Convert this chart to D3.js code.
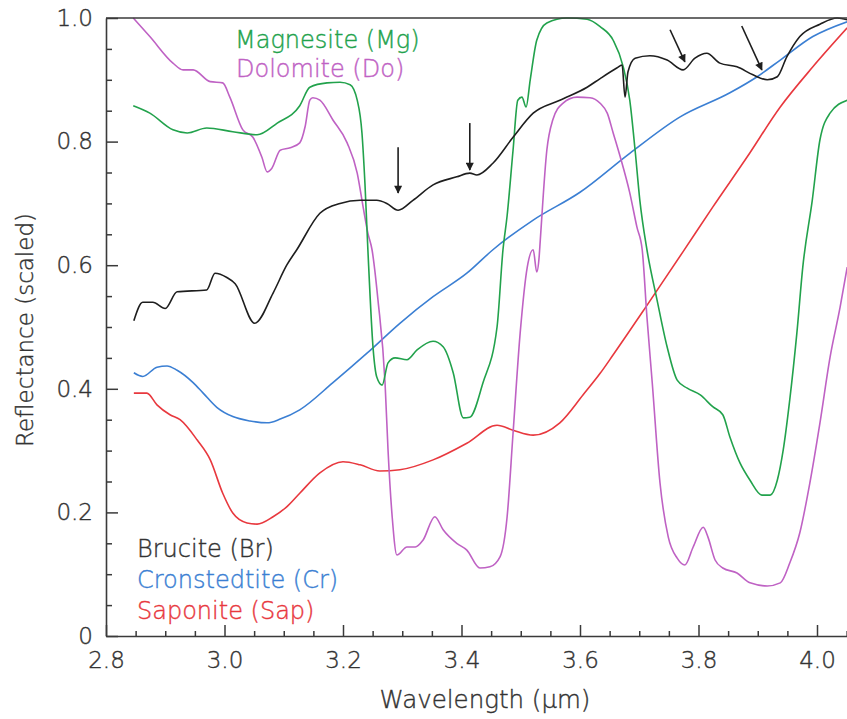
<!DOCTYPE html>
<html>
<head>
<meta charset="utf-8">
<script src="https://cdn.jsdelivr.net/npm/d3@7"></script>
<style>
  body { margin: 0; background: #fff; }
  text { font-family: "DejaVu Sans", sans-serif; font-weight: 200; stroke-width: 0.4px; }
</style>
</head>
<body>
<div id="chart"></div>
<script>
// spectra: [wavelength (um), reflectance]
const brucite = [[2.847,0.51],[2.862,0.54],[2.879,0.54],[2.900,0.53],[2.920,0.557],[2.970,0.56],[2.984,0.587],[3.004,0.58],[3.018,0.57],[3.051,0.506],[3.082,0.555],[3.105,0.60],[3.122,0.625],[3.161,0.684],[3.195,0.70],[3.229,0.705],[3.257,0.705],[3.274,0.70],[3.293,0.689],[3.318,0.705],[3.352,0.73],[3.392,0.743],[3.414,0.749],[3.426,0.746],[3.453,0.765],[3.487,0.807],[3.521,0.846],[3.566,0.867],[3.612,0.888],[3.634,0.902],[3.662,0.919],[3.671,0.924],[3.676,0.872],[3.681,0.913],[3.693,0.935],[3.718,0.939],[3.747,0.932],[3.774,0.916],[3.794,0.935],[3.814,0.943],[3.836,0.927],[3.865,0.921],[3.892,0.908],[3.916,0.90],[3.933,0.905],[3.949,0.937],[3.971,0.97],[4.005,0.99],[4.034,1.0],[4.051,0.997]]

const cronstedtite = [[2.847,0.426],[2.862,0.42],[2.886,0.435],[2.903,0.437],[2.920,0.43],[2.947,0.41],[2.964,0.393],[2.987,0.37],[3.014,0.355],[3.043,0.348],[3.072,0.345],[3.094,0.351],[3.127,0.366],[3.183,0.41],[3.241,0.458],[3.296,0.506],[3.352,0.549],[3.409,0.587],[3.453,0.625],[3.521,0.673],[3.600,0.718],[3.684,0.781],[3.769,0.84],[3.853,0.879],[3.899,0.905],[3.938,0.932],[3.993,0.97],[4.051,0.994]]

const saponite = [[2.847,0.393],[2.869,0.393],[2.886,0.374],[2.908,0.358],[2.925,0.35],[2.954,0.317],[2.976,0.285],[2.997,0.231],[3.014,0.199],[3.038,0.183],[3.055,0.181],[3.082,0.193],[3.105,0.209],[3.127,0.231],[3.161,0.264],[3.200,0.282],[3.229,0.277],[3.262,0.267],[3.296,0.269],[3.352,0.285],[3.409,0.312],[3.460,0.341],[3.487,0.333],[3.521,0.325],[3.566,0.345],[3.605,0.39],[3.634,0.425],[3.656,0.455],[3.713,0.535],[3.774,0.622],[3.824,0.694],[3.882,0.775],[3.938,0.856],[3.993,0.921],[4.051,0.984]]

const magnesite = [[2.846,0.858],[2.874,0.846],[2.913,0.819],[2.937,0.814],[2.970,0.822],[3.014,0.816],[3.055,0.811],[3.089,0.83],[3.127,0.858],[3.144,0.888],[3.173,0.895],[3.195,0.896],[3.212,0.892],[3.224,0.867],[3.232,0.814],[3.237,0.733],[3.242,0.625],[3.251,0.463],[3.257,0.419],[3.266,0.406],[3.276,0.442],[3.288,0.45],[3.308,0.447],[3.325,0.463],[3.352,0.477],[3.369,0.468],[3.386,0.426],[3.403,0.353],[3.414,0.354],[3.436,0.409],[3.460,0.50],[3.470,0.625],[3.477,0.68],[3.487,0.786],[3.495,0.867],[3.502,0.872],[3.509,0.856],[3.516,0.90],[3.527,0.964],[3.544,0.992],[3.578,1.0],[3.612,0.998],[3.634,0.986],[3.656,0.964],[3.673,0.921],[3.684,0.867],[3.693,0.786],[3.701,0.705],[3.713,0.625],[3.730,0.544],[3.747,0.468],[3.764,0.414],[3.781,0.401],[3.803,0.39],[3.824,0.371],[3.841,0.358],[3.853,0.322],[3.870,0.28],[3.887,0.252],[3.907,0.228],[3.921,0.228],[3.933,0.252],[3.943,0.301],[3.954,0.382],[3.966,0.49],[3.976,0.597],[3.992,0.705],[4.005,0.803],[4.022,0.846],[4.051,0.867]]

const dolomite = [[2.846,1.0],[2.874,0.97],[2.913,0.927],[2.930,0.916],[2.947,0.916],[2.976,0.897],[2.997,0.895],[3.009,0.872],[3.031,0.819],[3.048,0.807],[3.063,0.775],[3.072,0.751],[3.080,0.757],[3.094,0.786],[3.111,0.79],[3.127,0.798],[3.136,0.824],[3.144,0.867],[3.149,0.871],[3.161,0.867],[3.183,0.835],[3.207,0.798],[3.224,0.749],[3.234,0.694],[3.242,0.652],[3.249,0.625],[3.259,0.544],[3.271,0.409],[3.276,0.301],[3.283,0.193],[3.291,0.131],[3.308,0.144],[3.322,0.144],[3.335,0.155],[3.355,0.193],[3.369,0.172],[3.392,0.15],[3.409,0.139],[3.431,0.11],[3.448,0.112],[3.465,0.128],[3.477,0.193],[3.487,0.328],[3.499,0.49],[3.511,0.597],[3.521,0.625],[3.527,0.589],[3.531,0.613],[3.533,0.641],[3.544,0.786],[3.554,0.835],[3.571,0.862],[3.595,0.872],[3.617,0.871],[3.634,0.862],[3.646,0.846],[3.656,0.814],[3.668,0.775],[3.684,0.717],[3.696,0.662],[3.705,0.625],[3.713,0.516],[3.722,0.409],[3.735,0.248],[3.749,0.16],[3.764,0.126],[3.777,0.115],[3.791,0.144],[3.808,0.176],[3.816,0.16],[3.828,0.123],[3.841,0.11],[3.865,0.102],[3.887,0.086],[3.916,0.081],[3.938,0.086],[3.954,0.118],[3.971,0.167],[3.988,0.248],[4.005,0.345],[4.022,0.451],[4.039,0.532],[4.051,0.597]]

const seriesNames = ["Magnesite (Mg)", "Dolomite (Do)", "Brucite (Br)", "Cronstedtite (Cr)", "Saponite (Sap)"]

// arrows marking brucite features: [x0, y0, x1, y1]
const arrows = [[3.293,0.791,3.293,0.717],[3.414,0.83,3.414,0.754],[3.752,0.981,3.777,0.929],[3.873,0.987,3.907,0.916]]

const xMajor = [2.8, 3.0, 3.2, 3.4, 3.6, 3.8, 4.0]
const yMajor = [0, 0.2, 0.4, 0.6, 0.8, 1.0]

const MARGIN = { TOP: 18, BOTTOM: 83, LEFT: 106, RIGHT: 0 }
const WIDTH = 847 - MARGIN.LEFT - MARGIN.RIGHT
const HEIGHT = 719 - MARGIN.TOP - MARGIN.BOTTOM

const COLORS = {
	"Magnesite (Mg)": "#22a24c",
	"Dolomite (Do)": "#bf62c4",
	"Brucite (Br)": "#1e1e1e",
	"Cronstedtite (Cr)": "#3b7fd3",
	"Saponite (Sap)": "#e8383e"
}
const TEXT_COLOR = "#333"

const svg = d3.select("#chart")
	.append("svg")
		.attr("width", 847)
		.attr("height", 719)

const g = svg.append("g")
	.attr("transform", `translate(${MARGIN.LEFT}, ${MARGIN.TOP})`)

const x = d3.scaleLinear()
	.domain([2.8, 2.8 + WIDTH / 592.5])
	.range([0, WIDTH])

const y = d3.scaleLinear()
	.domain([0, 1])
	.range([HEIGHT, 0])

g.append("clipPath").attr("id", "clip")
	.append("rect")
		.attr("x", 0).attr("y", -1)
		.attr("width", WIDTH).attr("height", HEIGHT + 1)

// lines, drawn back to front
const line = d3.line()
	.x(d => x(d[0]))
	.y(d => y(d[1]))
	.curve(d3.curveMonotoneX)

const drawOrder = [
	["Saponite (Sap)", saponite],
	["Cronstedtite (Cr)", cronstedtite],
	["Dolomite (Do)", dolomite],
	["Magnesite (Mg)", magnesite],
	["Brucite (Br)", brucite]
]

g.append("g").attr("clip-path", "url(#clip)")
	.selectAll("path")
	.data(drawOrder)
	.enter().append("path")
		.attr("d", d => line(d[1]))
		.attr("fill", "none")
		.attr("stroke", d => COLORS[d[0]])
		.attr("stroke-width", 1.6)
		.attr("stroke-linejoin", "round")

// axes
const axisColor = "#3a3a3a"
const fmt = d => d === 0 ? "0" : d3.format(".1f")(d)

const xMinor = d3.range(2.8, 4.06, 0.05).filter(v => !xMajor.some(m => Math.abs(m - v) < 1e-6))
const yMinor = d3.range(0, 1.0, 0.05).filter(v => !yMajor.some(m => Math.abs(m - v) < 1e-6))

g.append("g")
	.attr("transform", `translate(0, ${HEIGHT})`)
	.call(d3.axisBottom(x).tickValues(xMinor).tickSize(-5).tickFormat(""))
	.call(a => a.select(".domain").remove())

g.append("g")
	.attr("class", "xaxis")
	.attr("transform", `translate(0, ${HEIGHT})`)
	.call(d3.axisBottom(x).tickValues(xMajor).tickSize(-11).tickSizeOuter(0).tickPadding(16).tickFormat(d3.format(".1f")))

g.append("g")
	.call(d3.axisLeft(y).tickValues(yMinor).tickSize(-6).tickFormat(""))
	.call(a => a.select(".domain").remove())

g.append("g")
	.attr("class", "yaxis")
	.call(d3.axisLeft(y).tickValues(yMajor).tickSize(-12).tickSizeOuter(0).tickPadding(13).tickFormat(fmt))

g.selectAll(".tick line").attr("stroke", axisColor).attr("stroke-width", 1.5)
g.selectAll(".domain").attr("stroke", axisColor).attr("stroke-width", 1.6)
g.selectAll(".tick text")
	.attr("fill", TEXT_COLOR)
	.attr("stroke", TEXT_COLOR)
	.style("font-size", "23px")

// top frame line
g.append("line")
	.attr("x1", 0).attr("x2", WIDTH)
	.attr("y1", 0).attr("y2", 0)
	.attr("stroke", axisColor)
	.attr("stroke-width", 1.6)

// axis titles
svg.append("text")
	.attr("x", 485).attr("y", 708)
	.attr("text-anchor", "middle")
	.attr("fill", TEXT_COLOR)
	.attr("stroke", TEXT_COLOR)
	.style("font-size", "24.5px")
	.text("Wavelength (\u00b5m)")

svg.append("text")
	.attr("transform", "translate(33, 330) rotate(-90)")
	.attr("text-anchor", "middle")
	.attr("fill", TEXT_COLOR)
	.attr("stroke", TEXT_COLOR)
	.style("font-size", "23px")
	.text("Reflectance (scaled)")

// labels
const labelPos = {
	"Magnesite (Mg)": [235, 48],
	"Dolomite (Do)": [236, 77],
	"Brucite (Br)": [137, 557],
	"Cronstedtite (Cr)": [137, 588],
	"Saponite (Sap)": [137, 619]
}

svg.selectAll(".label")
	.data(seriesNames)
	.enter().append("text")
		.attr("class", "label")
		.attr("x", d => labelPos[d][0])
		.attr("y", d => labelPos[d][1])
		.attr("fill", d => d === "Brucite (Br)" ? TEXT_COLOR : COLORS[d])
		.attr("stroke", d => d === "Brucite (Br)" ? TEXT_COLOR : COLORS[d])
		.style("font-size", "24px")
		.text(d => d)

// arrows
const defs = svg.append("defs")
defs.append("marker")
	.attr("id", "head")
	.attr("viewBox", "0 0 10 10")
	.attr("refX", 9).attr("refY", 5)
	.attr("markerWidth", 9).attr("markerHeight", 8)
	.attr("markerUnits", "userSpaceOnUse")
	.attr("orient", "auto")
	.append("path")
		.attr("d", "M0,0 L10,5 L0,10 Z")
		.attr("fill", "#1e1e1e")

g.selectAll(".arrow")
	.data(arrows)
	.enter().append("line")
		.attr("class", "arrow")
		.attr("x1", d => x(d[0])).attr("y1", d => y(d[1]))
		.attr("x2", d => x(d[2])).attr("y2", d => y(d[3]))
		.attr("stroke", "#1e1e1e")
		.attr("stroke-width", 1.6)
		.attr("marker-end", "url(#head)")
</script>
</body>
</html>
